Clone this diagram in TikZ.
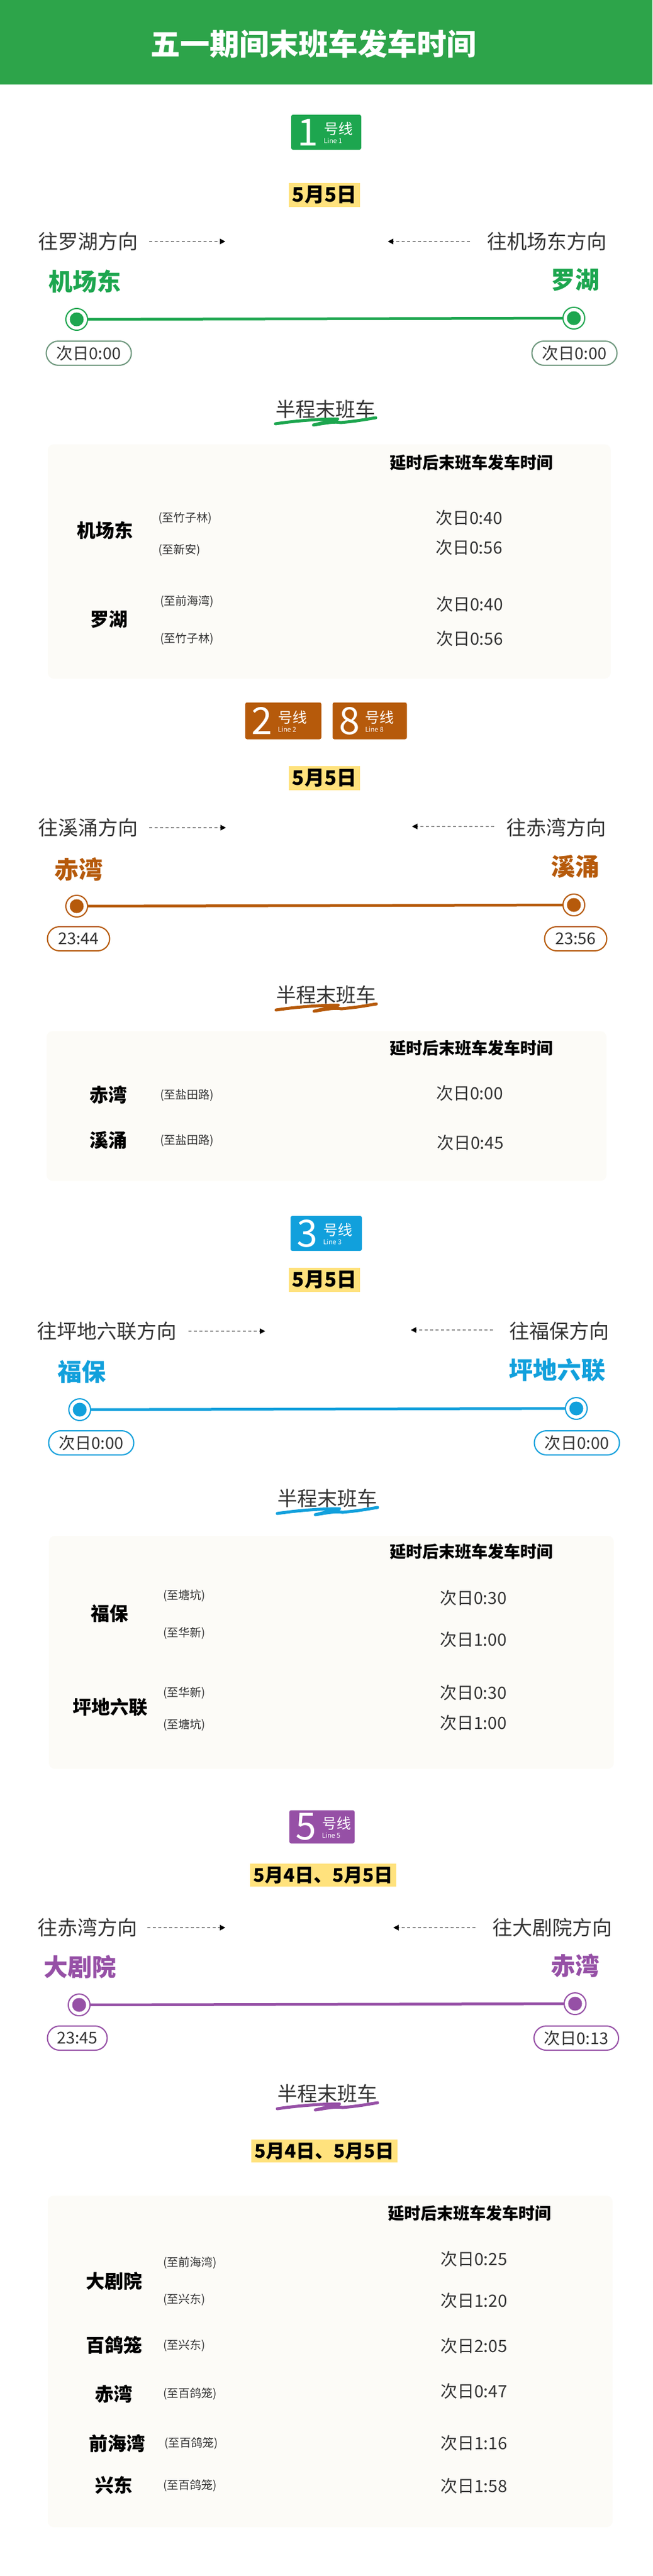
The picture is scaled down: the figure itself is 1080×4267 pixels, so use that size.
\documentclass[tikz,border=0pt]{standalone}
\usepackage{fontspec}
\setmainfont{Noto Sans CJK SC}
\usetikzlibrary{arrows.meta,positioning}
\definecolor{hdr}{HTML}{2DA44A}
\definecolor{lA}{HTML}{1DA64F}
\definecolor{lB}{HTML}{B65A0B}
\definecolor{lC}{HTML}{11A0DC}
\definecolor{lD}{HTML}{9650A6}
\definecolor{ylw}{HTML}{FFE27D}
\definecolor{txt}{HTML}{333333}
\definecolor{pnl}{HTML}{FCFBF7}
\definecolor{dsh}{HTML}{8A8A8A}
\newcommand\fs[1]{\fontsize{#1}{#1}\selectfont}
\tikzset{
 dirtxt/.style={text=txt,font=\fs{33},inner sep=0},
 stn/.style={font=\bfseries\fs{40},inner sep=0},
 datebox/.style={fill=ylw,font=\bfseries\fs{33},text=black,inner xsep=6,inner ysep=5},
 dirarrow/.style={dsh,dashed,dash pattern=on 5pt off 4pt,line width=1.6pt,-{Triangle[length=9pt,width=9pt,black]}},
 outerring/.style={circle,draw=#1,line width=2pt,fill=white,minimum size=36pt,inner sep=0},
 innerdot/.style={circle,fill=#1,minimum size=23pt,inner sep=0},
 track/.style={#1,line width=4.5pt},
 pill/.style={draw=#1,line width=2pt,rounded corners=20pt,fill=white,minimum height=40pt,text=txt,font=\fs{27},inner xsep=12},
 halftitle/.style={text=txt,font=\fs{33},inner sep=0},
 squig/.style={#1,line width=5pt,line cap=round,line join=round},
 panel/.style={fill=pnl,rounded corners=10pt},
 thead/.style={text=black,font=\bfseries\fs{27},inner sep=0},
 tstn/.style={text=black,font=\bfseries\fs{31},inner sep=0,anchor=west},
 tsub/.style={text=txt,font=\fs{19},inner sep=0,anchor=west},
 ttime/.style={text=txt,font=\fs{28},inner sep=0,anchor=west},
 badge/.style={fill=#1,rounded corners=3pt,inner sep=0},
 bdig/.style={text=white,font=\fs{62},inner sep=0},
 bhao/.style={text=white,font=\fs{24},inner sep=0},
 bline/.style={text=white,font=\fs{11},inner sep=0},
}
% name, x, y, width, height, colour, digit, line label
\newcommand\mkbadge[8]{%
 \node[badge=#6,minimum width=#4pt,minimum height=#5pt] (#1) at (#2,#3) {};
 \node[bdig,anchor=center] (#1d) at ([xshift=28pt]#1.west) {#7};
 \node[bhao,anchor=west] (#1h) at ([xshift=54pt,yshift=6pt]#1.west) {号线};
 \node[bline,anchor=west] (#1l) at ([xshift=54pt,yshift=-14pt]#1.west) {#8};
}
\newcommand\squiggle[3]{% colour, cx, cy
 \draw[squig=#1] (#2-83,#3+4) .. controls (#2-50,#3-1) and (#2-10,#3-4) .. (#2+20,#3-4)
   -- (#2-20,#3+6) .. controls (#2+5,#3+2) and (#2+15,#3) .. (#2+25,#3+2)
   -- (#2+35,#3+1) .. controls (#2+55,#3-1) and (#2+70,#3-4) .. (#2+83,#3-6);
}
\begin{document}
\begin{tikzpicture}[x=1pt,y=-1pt]
\useasboundingbox (0,0) rectangle (1080,4267);
\fill[white] (0,0) rectangle (1080,4267);
% header
\fill[hdr] (0,0) rectangle (1080,140);
\node[text=white,font=\bfseries\fs{49},inner sep=0] (title) at (519,73) {五一期间末班车发车时间};

% ===== Line 1 =====
\mkbadge{b1}{540}{219}{116}{58}{lA}{1}{Line 1}
\node[datebox] (d1) at (537,323) {5月5日};
\node[dirtxt,anchor=west] (l1dl) at (63,400) {往罗湖方向};
\coordinate (l1a1) at (247,400); \coordinate (l1a2) at (373,400);
\draw[dirarrow] (l1a1) -- (l1a2);
\node[dirtxt,anchor=east] (l1dr) at (1005,400) {往机场东方向};
\coordinate (l1b1) at (778,400); \coordinate (l1b2) at (642,400);
\draw[dirarrow] (l1b1) -- (l1b2);
\node[stn,text=lA] (l1s1) at (140,466) {机场东};
\node[stn,text=lA] (l1s2) at (952,464) {罗湖};
\node[outerring=lA] (l1c1) at (127,529) {};
\node[outerring=lA] (l1c2) at (950,527) {};
\draw[track=lA] (l1c1) -- (l1c2);
\node[innerdot=lA] at (l1c1) {};
\node[innerdot=lA] at (l1c2) {};
\node[pill=lA!50!black!60,minimum width=141pt] (l1p1) at (147,585) {次日0:00};
\node[pill=lA!50!black!60,minimum width=141pt] (l1p2) at (951,585) {次日0:00};
\node[halftitle] (h1) at (539,678) {半程末班车};
\squiggle{lA}{539}{698}
\fill[panel] (79,736) rectangle (1011,1124);
\node[thead] (t1h) at (780,766) {延时后末班车发车时间};
\node[tstn] (t1s1) at (127,879) {机场东};
\node[tsub] at (262,858) {(至竹子林)};
\node[tsub] at (262,911) {(至新安)};
\node[ttime] at (721,858) {次日0:40};
\node[ttime] at (721,907) {次日0:56};
\node[tstn] (t1s2) at (149,1026) {罗湖};
\node[tsub] at (265,996) {(至前海湾)};
\node[tsub] at (265,1058) {(至竹子林)};
\node[ttime] at (722,1001) {次日0:40};
\node[ttime] at (722,1058) {次日0:56};

% ===== Line 2 / 8 =====
\mkbadge{b2}{469}{1194}{126}{61}{lB}{2}{Line 2}
\mkbadge{b8}{612}{1194}{123}{61}{lB}{8}{Line 8}
\node[datebox] (d2) at (537,1289) {5月5日};
\node[dirtxt,anchor=west] (l2dl) at (63,1371) {往溪涌方向};
\coordinate (l2a1) at (247,1371); \coordinate (l2a2) at (374,1371);
\draw[dirarrow] (l2a1) -- (l2a2);
\node[dirtxt,anchor=east] (l2dr) at (1004,1371) {往赤湾方向};
\coordinate (l2b1) at (818,1369); \coordinate (l2b2) at (682,1369);
\draw[dirarrow] (l2b1) -- (l2b2);
\node[stn,text=lB] (l2s1) at (130,1440) {赤湾};
\node[stn,text=lB] (l2s2) at (952,1435) {溪涌};
\node[outerring=lB] (l2c1) at (127,1501) {};
\node[outerring=lB] (l2c2) at (950,1499) {};
\draw[track=lB] (l2c1) -- (l2c2);
\node[innerdot=lB] at (l2c1) {};
\node[innerdot=lB] at (l2c2) {};
\node[pill=lB,minimum width=103pt] (l2p1) at (130,1555) {23:44};
\node[pill=lB,minimum width=103pt] (l2p2) at (953,1555) {23:56};
\node[halftitle] (h2) at (540,1648) {半程末班车};
\squiggle{lB}{540}{1669}
\fill[panel] (77,1708) rectangle (1004,1956);
\node[thead] (t2h) at (780,1736) {延时后末班车发车时间};
\node[tstn] (t2s1) at (148,1814) {赤湾};
\node[tsub] at (265,1814) {(至盐田路)};
\node[ttime] at (722,1811) {次日0:00};
\node[tstn] (t2s2) at (148,1889) {溪涌};
\node[tsub] at (265,1889) {(至盐田路)};
\node[ttime] at (723,1893) {次日0:45};

% ===== Line 3 =====
\mkbadge{b3}{540}{2043}{118}{58}{lC}{3}{Line 3}
\node[datebox] (d3) at (537,2120) {5月5日};
\node[dirtxt,anchor=west] (l3dl) at (61,2205) {往坪地六联方向};
\coordinate (l3a1) at (312,2205); \coordinate (l3a2) at (439,2205);
\draw[dirarrow] (l3a1) -- (l3a2);
\node[dirtxt,anchor=east] (l3dr) at (1009,2205) {往福保方向};
\coordinate (l3b1) at (816,2203); \coordinate (l3b2) at (680,2203);
\draw[dirarrow] (l3b1) -- (l3b2);
\node[stn,text=lC] (l3s1) at (135,2272) {福保};
\node[stn,text=lC] (l3s2) at (922,2270) {坪地六联};
\node[outerring=lC] (l3c1) at (132,2335) {};
\node[outerring=lC] (l3c2) at (954,2333) {};
\draw[track=lC] (l3c1) -- (l3c2);
\node[innerdot=lC] at (l3c1) {};
\node[innerdot=lC] at (l3c2) {};
\node[pill=lC,minimum width=141pt] (l3p1) at (151,2390) {次日0:00};
\node[pill=lC,minimum width=141pt] (l3p2) at (955,2390) {次日0:00};
\node[halftitle] (h3) at (542,2482) {半程末班车};
\squiggle{lC}{542}{2503}
\fill[panel] (81,2544) rectangle (1016,2930);
\node[thead] (t3h) at (780,2570) {延时后末班车发车时间};
\node[tstn] (t3s1) at (150,2673) {福保};
\node[tsub] at (270,2643) {(至塘坑)};
\node[tsub] at (270,2705) {(至华新)};
\node[ttime] at (728,2647) {次日0:30};
\node[ttime] at (728,2716) {次日1:00};
\node[tstn] (t3s2) at (120,2828) {坪地六联};
\node[tsub] at (270,2804) {(至华新)};
\node[tsub] at (270,2857) {(至塘坑)};
\node[ttime] at (728,2804) {次日0:30};
\node[ttime] at (728,2854) {次日1:00};

% ===== Line 5 =====
\mkbadge{b5}{533}{3026}{108}{55}{lD}{5}{Line 5}
\node[datebox,font=\bfseries\fs{31}] (d5) at (535,3106) {5月4日、5月5日};
\node[dirtxt,anchor=west] (l5dl) at (62,3193) {往赤湾方向};
\coordinate (l5a1) at (244,3193); \coordinate (l5a2) at (373,3193);
\draw[dirarrow] (l5a1) -- (l5a2);
\node[dirtxt,anchor=east] (l5dr) at (1014,3193) {往大剧院方向};
\coordinate (l5b1) at (787,3193); \coordinate (l5b2) at (651,3193);
\draw[dirarrow] (l5b1) -- (l5b2);
\node[stn,text=lD] (l5s1) at (132,3258) {大剧院};
\node[stn,text=lD] (l5s2) at (952,3256) {赤湾};
\node[outerring=lD] (l5c1) at (131,3321) {};
\node[outerring=lD] (l5c2) at (952,3319) {};
\draw[track=lD] (l5c1) -- (l5c2);
\node[innerdot=lD] at (l5c1) {};
\node[innerdot=lD] at (l5c2) {};
\node[pill=lD,minimum width=99pt] (l5p1) at (128,3376) {23:45};
\node[pill=lD,minimum width=140pt] (l5p2) at (954,3376) {次日0:13};
\node[halftitle] (h5) at (542,3468) {半程末班车};
\squiggle{lD}{542}{3489}
\node[datebox,font=\bfseries\fs{31}] (d5b) at (537,3563) {5月4日、5月5日};
\fill[panel] (79,3637) rectangle (1014,4186);
\node[thead] (t5h) at (777,3666) {延时后末班车发车时间};
\node[tstn] (t5s1) at (142,3779) {大剧院};
\node[tsub] at (270,3748) {(至前海湾)};
\node[tsub] at (270,3809) {(至兴东)};
\node[ttime] at (729,3742) {次日0:25};
\node[ttime] at (729,3811) {次日1:20};
\node[tstn] (t5s2) at (142,3885) {百鸽笼};
\node[tsub] at (270,3885) {(至兴东)};
\node[ttime] at (729,3886) {次日2:05};
\node[tstn] (t5s3) at (157,3965) {赤湾};
\node[tsub] at (270,3965) {(至百鸽笼)};
\node[ttime] at (729,3961) {次日0:47};
\node[tstn] (t5s4) at (147,4047) {前海湾};
\node[tsub] at (272,4047) {(至百鸽笼)};
\node[ttime] at (729,4047) {次日1:16};
\node[tstn] (t5s5) at (157,4117) {兴东};
\node[tsub] at (270,4117) {(至百鸽笼)};
\node[ttime] at (729,4118) {次日1:58};
\end{tikzpicture}
\end{document}
